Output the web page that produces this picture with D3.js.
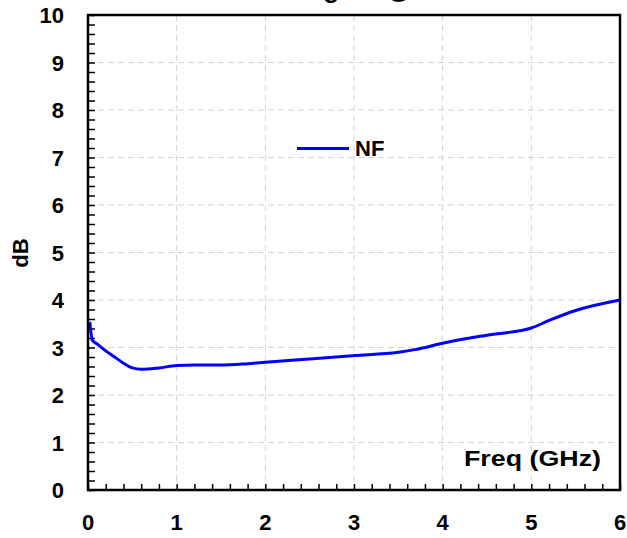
<!DOCTYPE html>
<html>
<head>
<meta charset="utf-8">
<script src="https://cdn.jsdelivr.net/npm/d3@7"></script>
<style>
    body { margin: 0; background: #fff; }
    svg { display: block; font-family: "Liberation Sans", Arial, sans-serif; font-weight: bold; }
</style>
</head>
<body>
<script>
// NF vs frequency
var freq = [0.02, 0.05, 0.1, 0.2, 0.3, 0.4, 0.5, 0.6, 0.8, 1.0, 1.2, 1.5, 1.8, 2.0, 2.5, 3.0, 3.5, 3.7, 4.0, 4.5, 5.0, 5.2, 5.5, 6.0];
var nf = [3.54, 3.15, 3.08, 2.93, 2.8, 2.67, 2.57, 2.54, 2.57, 2.62, 2.63, 2.63, 2.66, 2.69, 2.76, 2.83, 2.9, 2.96, 3.09, 3.26, 3.41, 3.57, 3.78, 4.0];
var xTicks = [0, 1, 2, 3, 4, 5, 6];
var yTicks = [0, 1, 2, 3, 4, 5, 6, 7, 8, 9, 10];
var seriesName = "NF";
var titleText = "Noise Figure @ 5V";
var xTitle = "Freq (GHz)";
var yTitle = "dB";

var width = 627, height = 538;
var plotLeft = 88, plotRight = 620, plotTop = 15, plotBottom = 490;  //绘图区边界

var svg = d3.select("body").append("svg")
    .attr("width", width)
    .attr("height", height);

var x = d3.scaleLinear().domain([0, 6]).range([plotLeft, plotRight]);
var y = d3.scaleLinear().domain([0, 10]).range([plotBottom, plotTop]);

// 标题（大部分在画面外）
svg.append("text")
    .attr("x", 222)
    .attr("y", -2)
    .attr("font-size", 26)
    .text(titleText);

// 网格线
var grid = svg.append("g")
    .attr("stroke", "#d4d4d4")
    .attr("stroke-width", 1)
    .attr("stroke-dasharray", "6,4");
grid.selectAll(".gx")
    .data(xTicks.slice(1, -1))
    .enter().append("line")
    .attr("x1", d => x(d)).attr("x2", d => x(d))
    .attr("y1", plotTop).attr("y2", plotBottom);
grid.selectAll(".gy")
    .data(yTicks.slice(1, -1))
    .enter().append("line")
    .attr("x1", plotLeft).attr("x2", plotRight)
    .attr("y1", d => y(d)).attr("y2", d => y(d));

// 刻度（向内）
var xAxis = d3.axisBottom(x)
    .tickValues(d3.range(0, 6.001, 0.2))
    .tickSizeInner(-6).tickSizeOuter(0).tickFormat("");
var yAxis = d3.axisLeft(y)
    .tickValues(d3.range(0, 10.001, 0.2))
    .tickSizeInner(-7).tickSizeOuter(0).tickFormat("");
svg.append("g")
    .attr("transform", "translate(0," + plotBottom + ")")
    .call(xAxis)
    .call(g => g.select(".domain").remove())
    .selectAll("line").attr("stroke", "#000").attr("stroke-width", 1.5);
svg.append("g")
    .attr("transform", "translate(" + plotLeft + ",0)")
    .call(yAxis)
    .call(g => g.select(".domain").remove())
    .selectAll("line").attr("stroke", "#000").attr("stroke-width", 1.5);

// 刻度文字
svg.selectAll(".xl")
    .data(xTicks)
    .enter().append("text")
    .attr("x", d => x(d))
    .attr("y", 530)
    .attr("text-anchor", "middle")
    .attr("font-size", 22)
    .text(d => d);
svg.selectAll(".yl")
    .data(yTicks)
    .enter().append("text")
    .attr("x", 64)
    .attr("y", d => y(d) + 8)
    .attr("text-anchor", "end")
    .attr("font-size", 22)
    .text(d => d);

// 曲线
var line = d3.line()
    .x((d, i) => x(freq[i]))
    .y(d => y(d))
    .curve(d3.curveMonotoneX);
svg.append("path")
    .datum(nf)
    .attr("d", line)
    .attr("fill", "none")
    .attr("stroke", "#0000ff")
    .attr("stroke-width", 3);

// 边框
svg.append("rect")
    .attr("x", plotLeft).attr("y", plotTop)
    .attr("width", plotRight - plotLeft).attr("height", plotBottom - plotTop)
    .attr("fill", "none")
    .attr("stroke", "#000")
    .attr("stroke-width", 2.5);

// 图例
svg.append("line")
    .attr("x1", 297).attr("x2", 349)
    .attr("y1", 148.5).attr("y2", 148.5)
    .attr("stroke", "#0000ff")
    .attr("stroke-width", 3);
svg.append("text")
    .attr("x", 355)
    .attr("y", 156)
    .attr("font-size", 22)
    .text(seriesName);

// 坐标轴标题
svg.append("text")
    .attr("x", 464)
    .attr("y", 466)
    .attr("font-size", 22)
    .attr("textLength", 137)
    .attr("lengthAdjust", "spacingAndGlyphs")
    .text(xTitle);
svg.append("text")
    .attr("transform", "translate(28,253) rotate(-90)")
    .attr("text-anchor", "middle")
    .attr("font-size", 22)
    .text(yTitle);
</script>
</body>
</html>
